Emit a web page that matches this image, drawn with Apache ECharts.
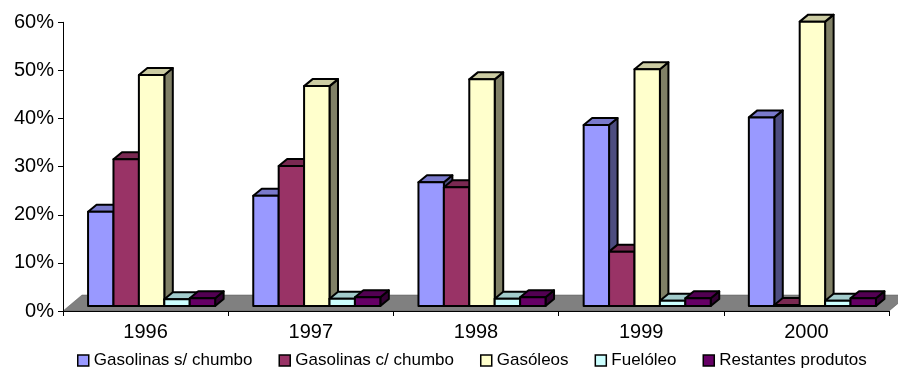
<!DOCTYPE html>
<html>
<head>
<meta charset="utf-8">
<script src="https://cdn.jsdelivr.net/npm/echarts@6/dist/echarts.min.js"></script>
<style>
  html, body { margin: 0; padding: 0; background: #fff; }
  #chart { width: 898px; height: 369px; }
</style>
</head>
<body>
<div id="chart"></div>
<script>
// Market share of fuel products, by year (percent)
const years = ['1996', '1997', '1998', '1999', '2000'];
const productNames = ['Gasolinas s/ chumbo', 'Gasolinas c/ chumbo', 'Gasóleos', 'Fuelóleo', 'Restantes produtos'];
const semChumbo = [19.6, 22.9, 25.7, 37.6, 39.2];
const comChumbo = [30.5, 29.1, 24.7, 11.3, 0.2];
const gasoleos  = [48.0, 45.7, 47.1, 49.2, 59.1];
const fueloleo  = [1.4, 1.5, 1.5, 1.1, 1.1];
const restantes = [1.6, 1.8, 1.8, 1.6, 1.6];
const yMin = 0, yMax = 60, yStep = 10;

const seriesValues = [semChumbo, comChumbo, gasoleos, fueloleo, restantes];
const colors = ['#9999FF', '#993366', '#FFFFCC', '#CCFFFF', '#660066'];

// pseudo-3D projection offsets (px): bar front plane, bar depth, floor depth
const FRONT = [6, 5];
const DEPTH = [8.5, 7];
const FLOOR = [19, 16];
const FONT = '"Liberation Sans", Arial, sans-serif';

function shade(hex, f) {
  const n = parseInt(hex.slice(1), 16);
  const r = Math.round(((n >> 16) & 255) * f);
  const g = Math.round(((n >> 8) & 255) * f);
  const b = Math.round((n & 255) * f);
  return 'rgb(' + r + ',' + g + ',' + b + ')';
}

function boxRenderer(k) {
  const front = colors[k], top = shade(colors[k], 0.8), side = shade(colors[k], 0.5);
  return function (params, api) {
    const c = api.value(0), v = api.value(1);
    const base = api.coord([c, 0]);
    const W = api.size([1, 0])[0];
    const b = W / 6.5;                       // 150% gap width
    const x0 = base[0] - W / 2 + 0.75 * b + k * b + FRONT[0];
    const x1 = x0 + b;
    const yb = base[1] - FRONT[1];
    const yt = api.coord([c, v])[1] - FRONT[1];
    const dx = DEPTH[0], dy = DEPTH[1];
    const st = { stroke: '#000', lineWidth: 2, lineJoin: 'round' };
    return {
      type: 'group',
      children: [
        { type: 'polygon', shape: { points: [[x1, yb], [x1 + dx, yb - dy], [x1 + dx, yt - dy], [x1, yt]] },
          style: Object.assign({ fill: side }, st) },
        { type: 'polygon', shape: { points: [[x0, yt], [x1, yt], [x1 + dx, yt - dy], [x0 + dx, yt - dy]] },
          style: Object.assign({ fill: top }, st) },
        { type: 'rect', shape: { x: x0, y: yt, width: b, height: yb - yt },
          style: Object.assign({ fill: front }, st) }
      ]
    };
  };
}

function floorRenderer(params, api) {
  const W = api.size([1, 0])[0];
  const a = api.coord([0, 0]);
  const z = api.coord([years.length - 1, 0]);
  const xl = a[0] - W / 2, xr = z[0] + W / 2, y = a[1];
  return {
    type: 'polygon',
    shape: { points: [[xl, y], [xr, y], [xr + FLOOR[0], y - FLOOR[1]], [xl + FLOOR[0], y - FLOOR[1]]] },
    style: { fill: '#808080', stroke: '#555', lineWidth: 0.5 }
  };
}

const series = [{
  name: 'floor', type: 'custom', renderItem: floorRenderer, data: [[0, 0]], z: 1, silent: true
}];
productNames.forEach(function (name, k) {
  series.push({
    name: name,
    type: 'custom',
    renderItem: boxRenderer(k),
    data: years.map(function (y, i) { return [i, seriesValues[k][i]]; }),
    itemStyle: { color: colors[k], borderColor: '#000', borderWidth: 1.5 },
    z: 2
  });
});

const chart = echarts.init(document.getElementById('chart'), null, { renderer: 'canvas' });
chart.setOption({
  animation: false,
  backgroundColor: '#fff',
  grid: { left: 63, right: 9, top: 22.3, bottom: 58 },
  xAxis: {
    type: 'category',
    data: years,
    boundaryGap: true,
    z: 5,
    axisLine: { lineStyle: { color: '#000', width: 1 } },
    axisTick: { show: true, length: 5, lineStyle: { color: '#000' } },
    axisLabel: { color: '#000', fontSize: 20, fontFamily: FONT, margin: 11 }
  },
  yAxis: {
    type: 'value',
    min: yMin, max: yMax, interval: yStep,
    z: 5,
    axisLine: { show: true, lineStyle: { color: '#000', width: 1 } },
    axisTick: { show: true, length: 5, lineStyle: { color: '#000' } },
    splitLine: { show: false },
    axisLabel: { color: '#000', fontSize: 20, fontFamily: FONT, margin: 9, formatter: '{value}%' }
  },
  legend: {
    left: 77, top: 352, padding: 0,
    itemWidth: 11, itemHeight: 11, itemGap: 26,
    textStyle: { color: '#000', fontSize: 17, fontFamily: FONT },
    data: productNames.map(function (n, k) {
      return { name: n, icon: 'rect', itemStyle: { color: colors[k], borderColor: '#000', borderWidth: 1.5 } };
    })
  },
  series: series
});
</script>
</body>
</html>
